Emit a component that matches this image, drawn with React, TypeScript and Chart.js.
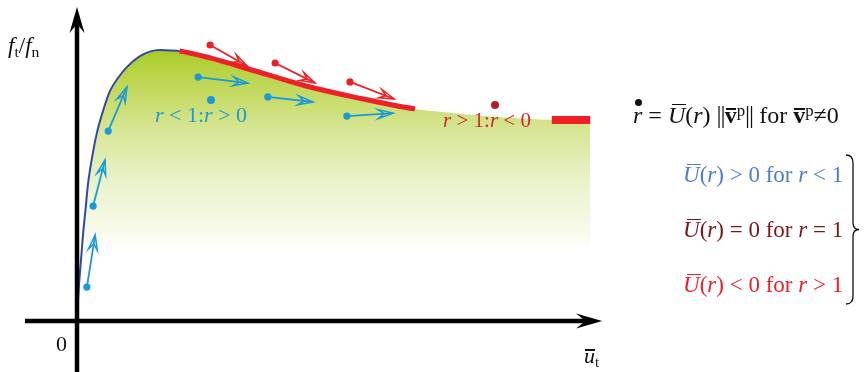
import React, { useEffect, useRef } from "react";
import { Chart, registerables } from "chart.js";
Chart.register(...registerables);

// ---- data (arbitrary units: x = ū_t, y = f_t/f_n) ----
const boundaryX = [0.0, 0.019, 0.038, 0.077, 0.115, 0.163, 0.212, 0.288, 0.377, 0.5, 0.635, 0.788, 0.962, 1.21, 1.4, 1.6, 1.79, 1.97, 2.56, 3.3, 4.37, 5.42, 6.5, 7.02, 8.08, 9.13, 9.87];
const boundaryY = [0.02, 0.07, 0.12, 0.203, 0.287, 0.37, 0.457, 0.543, 0.623, 0.7, 0.767, 0.81, 0.847, 0.883, 0.898, 0.903, 0.902, 0.9, 0.877, 0.84, 0.785, 0.743, 0.707, 0.697, 0.68, 0.67, 0.668];
const PEAK_INDEX = 17;
const RED_END_INDEX = 22;
const PLATEAU_INDEX = 25;

const blueArrowX0 = [0.19, 0.31, 0.6, 2.33, 3.67, 5.19];
const blueArrowY0 = [0.113, 0.383, 0.633, 0.813, 0.747, 0.683];
const blueArrowX1 = [0.35, 0.54, 0.96, 3.29, 4.54, 6.08];
const blueArrowY1 = [0.287, 0.537, 0.78, 0.793, 0.73, 0.693];

const redArrowX0 = [2.56, 3.81, 5.25];
const redArrowY0 = [0.92, 0.86, 0.797];
const redArrowX1 = [3.27, 4.58, 6.1];
const redArrowY1 = [0.85, 0.793, 0.74];

const X_MIN = -1;
const X_MAX = 10.5;
const Y_MIN = -0.17;
const Y_MAX = 1.07;
const AXIS_X_TIP = 10.1;
const AXIS_Y_TIP = 1.047;

const BLUE_ARROW = "#1a9ad6";
const RED = "#ee1f26";
const CURVE_BLUE = "#2e4aa5";

const pts = (xs: number[], ys: number[]) => xs.map((x, i) => ({ x, y: ys[i] }));

function buildDatasets(): any[] {
  const ds: any[] = [];
  ds.push({
    label: "x-axis",
    data: [{ x: X_MIN, y: 0 }, { x: AXIS_X_TIP - 0.2, y: 0 }],
    borderColor: "#000",
    borderWidth: 4.5,
    pointRadius: 0,
    order: 0,
    clip: false,
    axisTip: { x: AXIS_X_TIP, y: 0 },
  });
  ds.push({
    label: "y-axis",
    data: [{ x: 0, y: Y_MIN }, { x: 0, y: AXIS_Y_TIP - 0.05 }],
    borderColor: "#000",
    borderWidth: 4.5,
    pointRadius: 0,
    order: 0,
    clip: false,
    axisTip: { x: 0, y: AXIS_Y_TIP },
  });
  ds.push({
    label: "plateau",
    data: pts(boundaryX.slice(PLATEAU_INDEX), boundaryY.slice(PLATEAU_INDEX)).map((p) => ({ x: p.x, y: boundaryY[PLATEAU_INDEX] })),
    borderColor: RED,
    borderWidth: 8,
    borderCapStyle: "butt",
    pointRadius: 0,
    order: 1,
  });
  const arrowSets = [
    { x0: blueArrowX0, y0: blueArrowY0, x1: blueArrowX1, y1: blueArrowY1, color: BLUE_ARROW },
    { x0: redArrowX0, y0: redArrowY0, x1: redArrowX1, y1: redArrowY1, color: RED },
  ];
  arrowSets.forEach((s) => {
    s.x0.forEach((_, i) => {
      ds.push({
        label: "arrow",
        data: [{ x: s.x0[i], y: s.y0[i] }, { x: s.x1[i], y: s.y1[i] }],
        borderColor: s.color,
        borderWidth: 1.8,
        pointRadius: [3.6, 0],
        pointBackgroundColor: s.color,
        pointBorderWidth: 0,
        order: 2,
        arrowHead: s.color,
      });
    });
  });
  ds.push({
    label: "boundary line",
    data: pts(boundaryX, boundaryY),
    borderColor: CURVE_BLUE,
    borderWidth: 2,
    cubicInterpolationMode: "monotone",
    pointRadius: 0,
    fill: false,
    order: 4,
    segment: {
      borderColor: (c: any) =>
        c.p0DataIndex < PEAK_INDEX ? CURVE_BLUE : c.p0DataIndex < RED_END_INDEX ? RED : "rgba(0,0,0,0)",
      borderWidth: (c: any) => (c.p0DataIndex < PEAK_INDEX ? 2 : c.p0DataIndex < RED_END_INDEX ? 5 : 0),
    },
  });
  ds.push({
    label: "region",
    data: pts(boundaryX, boundaryY),
    borderWidth: 0,
    borderColor: "rgba(0,0,0,0)",
    cubicInterpolationMode: "monotone",
    pointRadius: 0,
    fill: "origin",
    order: 6,
    backgroundColor: (c: any) => {
      const chart = c.chart;
      if (!chart.chartArea) return "rgba(0,0,0,0)";
      const y = chart.scales.y;
      const g = chart.ctx.createLinearGradient(0, y.getPixelForValue(0.91), 0, y.getPixelForValue(0.24));
      g.addColorStop(0, "#a6ca24");
      g.addColorStop(0.11, "#b8d342");
      g.addColorStop(0.43, "#d9e79a");
      g.addColorStop(0.68, "#ebf3cd");
      g.addColorStop(0.93, "#f8fbec");
      g.addColorStop(1, "#ffffff");
      return g;
    },
  });
  return ds;
}

function stealth(ctx: CanvasRenderingContext2D, tx: number, ty: number, ux: number, uy: number, len: number, half: number, notch: number) {
  const nx = -uy;
  const ny = ux;
  const bx = tx - ux * len;
  const by = ty - uy * len;
  ctx.beginPath();
  ctx.moveTo(tx, ty);
  ctx.lineTo(bx + nx * half, by + ny * half);
  ctx.lineTo(tx - ux * notch, ty - uy * notch);
  ctx.lineTo(bx - nx * half, by - ny * half);
  ctx.closePath();
}

const arrowPlugin = {
  id: "arrowHeads",
  afterDatasetsDraw(chart: any) {
    const ctx: CanvasRenderingContext2D = chart.ctx;
    const xs = chart.scales.x;
    const ys = chart.scales.y;
    chart.data.datasets.forEach((d: any, i: number) => {
      if (d.arrowHead) {
        const meta = chart.getDatasetMeta(i);
        const p0 = meta.data[0];
        const p1 = meta.data[1];
        const dx = p1.x - p0.x;
        const dy = p1.y - p0.y;
        const L = Math.hypot(dx, dy);
        const ux = dx / L;
        const uy = dy / L;
        ctx.save();
        ctx.strokeStyle = d.arrowHead;
        ctx.lineWidth = 1.5;
        ctx.lineJoin = "miter";
        stealth(ctx, p1.x, p1.y, ux, uy, 15, 4.5, 9);
        ctx.stroke();
        ctx.restore();
      }
      if (d.axisTip) {
        const tx = xs.getPixelForValue(d.axisTip.x);
        const ty = ys.getPixelForValue(d.axisTip.y);
        const meta = chart.getDatasetMeta(i);
        const p0 = meta.data[0];
        const dx = tx - p0.x;
        const dy = ty - p0.y;
        const L = Math.hypot(dx, dy);
        ctx.save();
        ctx.fillStyle = "#000";
        stealth(ctx, tx, ty, dx / L, dy / L, 26, 7.5, 17);
        ctx.fill();
        ctx.restore();
      }
    });
  },
};

const bracePlugin = {
  id: "brace",
  afterDraw(chart: any) {
    const ctx: CanvasRenderingContext2D = chart.ctx;
    const x = 853;
    const top = 155;
    const bot = 304;
    const mid = (top + bot) / 2;
    ctx.save();
    ctx.strokeStyle = "#111";
    ctx.lineWidth = 1.3;
    ctx.beginPath();
    ctx.moveTo(x - 7, top);
    ctx.quadraticCurveTo(x, top, x, top + 8);
    ctx.lineTo(x, mid - 7);
    ctx.quadraticCurveTo(x, mid, x + 6, mid);
    ctx.quadraticCurveTo(x, mid, x, mid + 7);
    ctx.lineTo(x, bot - 8);
    ctx.quadraticCurveTo(x, bot, x - 7, bot);
    ctx.stroke();
    ctx.restore();
  },
};

const serif = "'Liberation Serif', 'Times New Roman', serif";

function Txt(props: { left: number; top: number; size: number; color?: string; children: any; spacing?: number }) {
  return (
    <div
      style={{
        position: "absolute",
        left: props.left,
        top: props.top,
        fontSize: props.size,
        lineHeight: 1,
        fontFamily: serif,
        color: props.color || "#111",
        whiteSpace: "nowrap",
        letterSpacing: props.spacing || 0,
      }}
    >
      {props.children}
    </div>
  );
}

function Bar(props: { children: any; top?: string; left?: string; right?: string }) {
  return (
    <span style={{ position: "relative", display: "inline-block" }}>
      {props.children}
      <span
        style={{
          position: "absolute",
          left: props.left || "22%",
          right: props.right || "-4%",
          top: props.top || "0.06em",
          height: 1.3,
          background: "currentColor",
        }}
      />
    </span>
  );
}

function DotR(props: { color: string; d: number; top: string; left?: string }) {
  return (
    <span style={{ position: "relative", display: "inline-block" }}>
      <i>r</i>
      <span
        style={{
          position: "absolute",
          left: props.left || "62%",
          top: props.top,
          width: props.d,
          height: props.d,
          marginLeft: -props.d / 2,
          marginTop: -props.d / 2,
          borderRadius: "50%",
          background: props.color,
        }}
      />
    </span>
  );
}

const Sub = (p: { children: any }) => (
  <span style={{ fontSize: "0.68em", verticalAlign: "-0.28em" }}>{p.children}</span>
);
const Sup = (p: { children: any }) => (
  <span style={{ fontSize: "0.7em", verticalAlign: "0.42em" }}>{p.children}</span>
);
const Ubar = () => (
  <Bar top="0.04em" left="22%" right="-6%">
    <i>U</i>
  </Bar>
);
const Vbar = () => (
  <Bar top="0.22em" left="8%" right="2%">
    <b>v</b>
  </Bar>
);
const Norm = () => <span style={{ fontSize: "1.05em", letterSpacing: -1 }}>||</span>;

export default function App() {
  const ref = useRef<HTMLCanvasElement>(null);
  useEffect(() => {
    const canvas = ref.current!;
    const chart = new Chart(canvas, {
      type: "line",
      data: { datasets: buildDatasets() },
      options: {
        animation: false,
        responsive: false,
        events: [],
        layout: { padding: { left: 25, right: 241, top: 0, bottom: 0 }, autoPadding: false } as any,
        scales: {
          x: { type: "linear", min: X_MIN, max: X_MAX, display: false },
          y: { type: "linear", min: Y_MIN, max: Y_MAX, display: false },
        },
        plugins: { legend: { display: false }, tooltip: { enabled: false }, title: { display: false } },
      },
      plugins: [arrowPlugin, bracePlugin],
    } as any);
    return () => chart.destroy();
  }, []);

  return (
    <div style={{ position: "fixed", left: 0, top: 0, width: 864, height: 372, background: "#fff", overflow: "hidden" }}>
      <canvas ref={ref} width={864} height={372} style={{ display: "block", width: 864, height: 372 }} />
      <Txt left={8} top={34} size={23}>
        <i>f</i>
        <Sub>t</Sub>/<i>f</i>
        <Sub>n</Sub>
      </Txt>
      <Txt left={56} top={333} size={22}>0</Txt>
      <Txt left={584} top={345} size={22}>
        <Bar top="0.2em" left="10%" right="0%">
          <i>u</i>
        </Bar>
        <Sub>t</Sub>
      </Txt>
      <Txt left={155} top={104} size={22} color="#1b9ad3">
        <i>r</i> &lt; 1:<DotR color="#1b9ad3" d={8} top="-0.16em" left="78%" /> &gt; 0
      </Txt>
      <Txt left={443} top={110} size={21} color="#cc2a30">
        <i>r</i> &gt; 1:<DotR color="#b41e2c" d={8} top="-0.26em" /> &lt; 0
      </Txt>
      <Txt left={633} top={102} size={24}>
        <DotR color="#111" d={7} top="-0.02em" /> = <Ubar />(<i>r</i>) <Norm /><Vbar />
        <Sup>p</Sup><Norm /> for <Vbar />
        <Sup>p</Sup>≠0
      </Txt>
      <Txt left={683} top={163} size={23} color="#4a7fd0">
        <Ubar />(<i>r</i>) &gt; 0 for <i>r</i> &lt; 1
      </Txt>
      <Txt left={683} top={218} size={23} color="#7d1518">
        <Ubar />(<i>r</i>) = 0 for <i>r</i> = 1
      </Txt>
      <Txt left={683} top={273} size={23} color="#ee2027">
        <Ubar />(<i>r</i>) &lt; 0 for <i>r</i> &gt; 1
      </Txt>
    </div>
  );
}
